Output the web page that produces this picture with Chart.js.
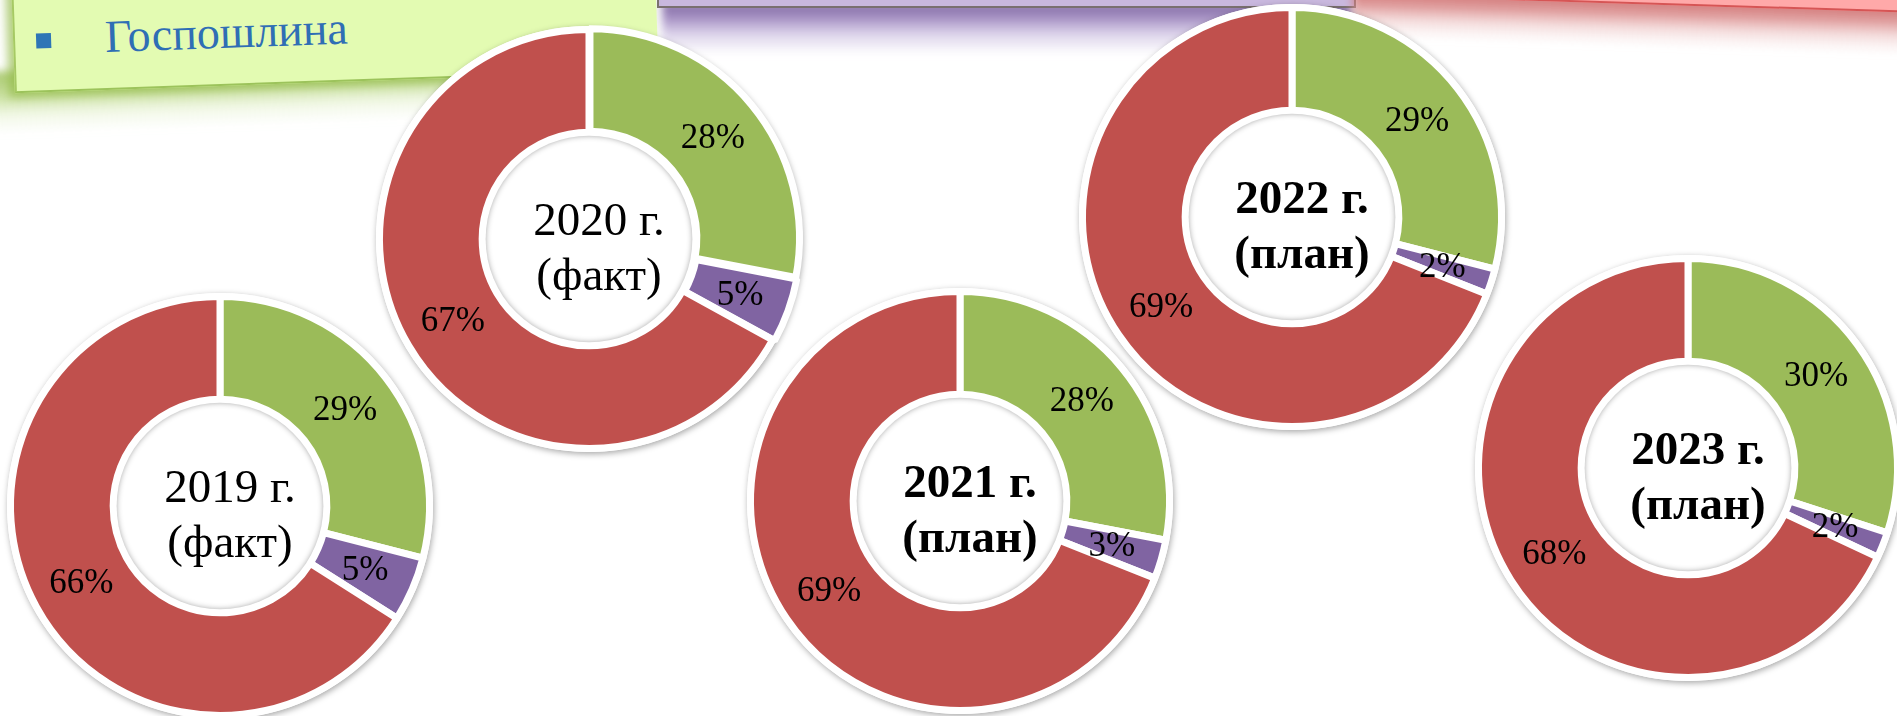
<!DOCTYPE html>
<html lang="ru">
<head>
<meta charset="utf-8">
<script src="https://cdn.jsdelivr.net/npm/chart.js@4.4.1/dist/chart.umd.min.js"></script>
<style>
  html, body { margin: 0; padding: 0; background: #fff; }
  body { width: 1897px; height: 716px; position: relative; overflow: hidden; font-family: "Liberation Serif", serif; }
  .box, .shade { position: absolute; }
  .shade { filter: blur(4px); }
  #purpleShade { left: 662px; top: 2px; width: 690px; height: 52px;
    background: linear-gradient(to bottom, rgba(120, 95, 155, 0.95) 0%, rgba(150, 125, 185, 0.85) 30%,
      rgba(195, 180, 220, 0.6) 60%, rgba(255, 255, 255, 0) 100%); }
  #purpleBox { left: 657px; top: -100px; width: 695px; height: 104px; background: #c9b8de;
    border: 2px solid #7a7070; }
  #redShade { left: 1352px; top: -4px; width: 620px; height: 50px; transform: rotate(1.8deg);
    background: linear-gradient(to bottom, rgba(200, 95, 95, 0.9) 0%, rgba(215, 130, 130, 0.8) 35%,
      rgba(235, 190, 190, 0.5) 65%, rgba(255, 255, 255, 0) 100%); }
  #redBox { left: 1365px; top: -97px; width: 600px; height: 100px; background: #ffa9a9;
    border-bottom: 2px solid #d65555; transform: rotate(1.8deg); }
  #greenShade { left: -10px; top: 60px; width: 670px; height: 62px; transform: rotate(-2deg);
    background: linear-gradient(to bottom, rgba(160, 195, 95, 0.9) 0%, rgba(185, 215, 130, 0.75) 40%,
      rgba(225, 240, 200, 0.45) 70%, rgba(255, 255, 255, 0) 100%); }
  #greenBox { left: 12px; top: -76px; width: 642px; height: 156px; background: #e3fbb2;
    border-left: 2px solid #a6c964; border-bottom: 2px solid #9cc35b;
    transform: rotate(-2deg); box-shadow: -6px 4px 10px rgba(145, 185, 70, 0.7); }
  #greenBox .bullet { position: absolute; left: 21px; top: 99px; width: 15px; height: 15px; background: #2e75b6; }
  #greenBox .title { position: absolute; left: 90px; top: 82px; font-size: 46px; line-height: 1; color: #2f6eb5; }
  canvas { position: absolute; }
</style>
</head>
<body>
<div id="purpleShade" class="shade"></div>
<div id="purpleBox" class="box"></div>
<div id="redShade" class="shade"></div>
<div id="redBox" class="box"></div>
<div id="greenShade" class="shade"></div>
<div id="greenBox" class="box"><div class="bullet"></div><div class="title">Госпошлина</div></div>
<script>
// данные диаграмм
const years = ['2019 г.', '2020 г.', '2021 г.', '2022 г.', '2023 г.'];
const kinds = ['(факт)', '(факт)', '(план)', '(план)', '(план)'];
const parts = ['Доля 1', 'Доля 2', 'Доля 3'];
const greenShare = [29, 28, 28, 29, 30];
const purpleShare = [5, 5, 3, 2, 2];
const redShare = [66, 67, 69, 69, 68];

// где стоят кольца на слайде
const centers = [[220, 506], [589, 239], [960, 501], [1292, 217], [1688, 468]];
const boldTitle = [false, false, true, true, true];
const colors = ['#9bbb59', '#8064a2', '#c0504d'];
const SIZE = 450;

// белая подложка с тенью, подписи долей и текст в центре
const ringPlugin = {
    id: 'ringLabels',
    beforeDatasetsDraw(chart) {
        const ctx = chart.ctx;
        const a = chart.getDatasetMeta(0).data[0];
        ctx.save();
        ctx.beginPath();
        ctx.arc(a.x, a.y, a.outerRadius + 3.5, 0, 2 * Math.PI);
        ctx.fillStyle = '#fff';
        ctx.shadowColor = 'rgba(0,0,0,0.35)';
        ctx.shadowBlur = 6;
        ctx.shadowOffsetX = 1;
        ctx.shadowOffsetY = 2;
        ctx.fill();
        ctx.restore();
    },
    afterDatasetsDraw(chart, args, opts) {
        const ctx = chart.ctx;
        const meta = chart.getDatasetMeta(0);
        const a = meta.data[0];
        const r = a.innerRadius - 3.5;
        // тень внутри отверстия
        ctx.save();
        ctx.beginPath();
        ctx.arc(a.x, a.y, r, 0, 2 * Math.PI);
        ctx.clip();
        ctx.beginPath();
        ctx.arc(a.x, a.y, r + 5, 0, 2 * Math.PI);
        ctx.lineWidth = 8;
        ctx.strokeStyle = '#fff';
        ctx.shadowColor = 'rgba(0,0,0,0.45)';
        ctx.shadowBlur = 6;
        ctx.stroke();
        ctx.restore();

        ctx.save();
        ctx.fillStyle = '#000';
        ctx.textAlign = 'center';
        ctx.textBaseline = 'middle';
        ctx.font = '35px "Liberation Serif"';
        meta.data.forEach((arc, i) => {
            const p = arc.getCenterPoint();
            ctx.fillText(chart.data.datasets[0].data[i] + '%', p.x, p.y + 2);
        });
        ctx.textBaseline = 'alphabetic';
        ctx.font = (opts.bold ? 'bold ' : '') + '47px "Liberation Serif"';
        ctx.fillText(opts.line1, a.x + 10, a.y - 4);
        ctx.fillText(opts.line2, a.x + 10, a.y + 51);
        ctx.restore();
    }
};

const createChart = function (i) {
    const cv = document.createElement('canvas');
    cv.width = SIZE;
    cv.height = SIZE;
    cv.style.left = (centers[i][0] - SIZE / 2) + 'px';
    cv.style.top = (centers[i][1] - SIZE / 2) + 'px';
    document.body.appendChild(cv);

    return new Chart(cv, {
        type: 'doughnut',
        data: {
            labels: parts,
            datasets: [{
                data: [greenShare[i], purpleShare[i], redShare[i]],
                backgroundColor: colors,
                borderColor: '#fff',
                borderWidth: 7,
                offset: i === 1 ? [5, 5, 0] : 0
            }]
        },
        options: {
            responsive: false,
            animation: false,
            radius: 209.5,
            cutout: '51%',
            layout: { padding: 0 },
            plugins: {
                legend: { display: false },
                tooltip: { enabled: false },
                ringLabels: { line1: years[i], line2: kinds[i], bold: boldTitle[i] }
            }
        },
        plugins: [ringPlugin]
    });
};

years.forEach((y, i) => createChart(i));
</script>
</body>
</html>
